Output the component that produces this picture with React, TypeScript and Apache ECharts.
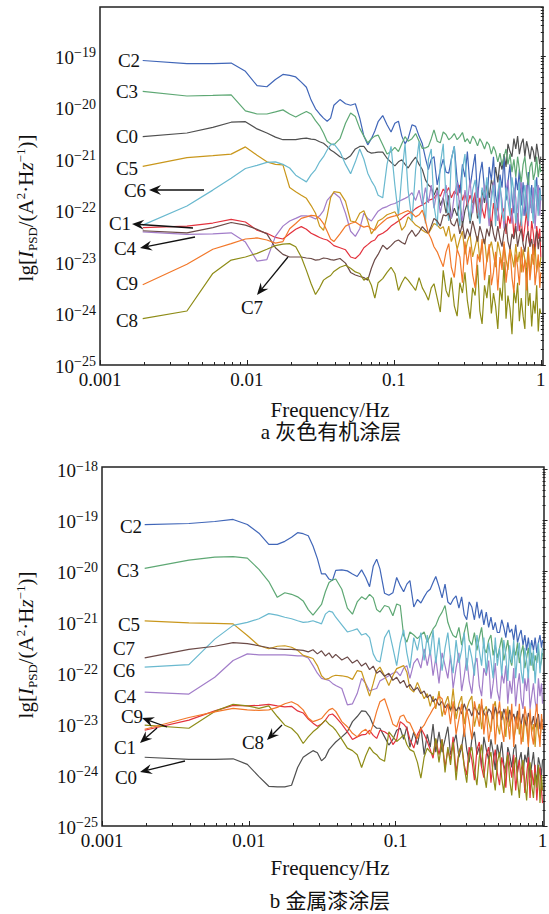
import React, { useEffect, useRef } from 'react';
import * as echarts from 'echarts';

// frequency bins (multiples of the 1/512 Hz resolution)
const BINS = [
  1, 2, 3, 4, 5, 6, 7, 8, 9, 10, 11, 12, 13, 14, 15, 16, 17, 18, 19, 20,
  22, 24, 26, 28, 30, 32, 34, 36, 38, 40,
  43, 46, 49, 52, 55, 58, 61, 64,
  68, 72, 76, 80, 84, 88, 92, 96,
  101, 106, 111, 116, 121, 126,
  132, 138, 144, 150, 156, 162,
  169, 176, 183, 190, 197, 204,
  212, 220, 228, 236, 244, 252,
  261, 270, 279, 288, 297, 306,
  316, 326, 336, 346, 356, 366,
  377, 388, 399, 410, 421, 432,
  444, 456, 468, 480, 492, 504,
  512,
];
const DF = 1 / 512;

const NAMES = ['C0', 'C1', 'C2', 'C3', 'C4', 'C5', 'C6', 'C7', 'C8', 'C9'];
const COLORS = ['#505050', '#e3323d', '#4066b8', '#5ea874', '#a27dc9', '#c9971c', '#6ab9cf', '#6b4a47', '#8e8c17', '#f2782a'];

// ---- panel a: lg PSD values ----
const A_C0 = [
  -20.56, -20.49, -20.38, -20.28, -20.27, -20.41, -20.49, -20.57, -20.62, -20.62, -20.62, -20.6, -20.59, -20.61, -20.62, -20.66, -20.69, -20.75, -20.82, -20.86,
  -20.95, -21.0, -20.93, -20.8, -20.75, -20.75, -20.85, -20.88, -20.87, -20.86,
  -20.86, -20.98, -21.06, -21.13, -21.05, -21.01, -21.1, -21.17,
  -21.05, -20.96, -21.1, -21.2, -21.4, -21.5, -21.55, -21.7,
  -21.55, -21.9, -21.75, -22.05, -21.7, -22.15,
  -21.95, -22.1, -21.8, -22.3, -22.0, -21.85,
  -22.25, -21.95, -21.7, -22.15, -22.05, -21.6,
  -21.85, -21.45, -21.75, -21.4, -21.55, -21.15,
  -21.45, -21.05, -21.2, -20.9, -21.15, -20.7,
  -20.85, -20.95, -20.6, -20.8, -20.55, -20.9,
  -20.7, -20.6, -20.95, -20.65, -20.8, -21.0,
  -20.75, -20.85, -21.05, -20.7, -20.9, -21.1,
  -20.95,
];
const A_C1 = [
  -22.33, -22.3, -22.24, -22.17, -22.22, -22.38, -22.44, -22.52, -22.55, -22.45, -22.36, -22.31, -22.36, -22.44, -22.48, -22.52, -22.55, -22.57, -22.62, -22.68,
  -22.72, -22.76, -22.9, -22.93, -22.85, -22.72, -22.66, -22.6, -22.57, -22.48,
  -22.44, -22.38, -22.3, -22.25, -22.2, -22.15, -22.1, -22.06,
  -22.02, -21.96, -21.92, -21.89, -21.85, -21.8, -21.78, -21.76,
  -21.66, -21.72, -21.58, -21.65, -21.55, -21.75,
  -21.62, -21.7, -21.5, -21.8, -21.65, -21.9,
  -21.7, -21.85, -21.65, -22.05, -21.75, -21.95,
  -22.15, -21.8, -22.0, -22.3, -21.85, -22.1,
  -21.9, -22.35, -22.05, -21.95, -22.45, -22.1,
  -22.25, -21.95, -22.5, -22.2, -22.05, -22.4,
  -22.15, -22.6, -22.3, -22.0, -22.5, -22.7,
  -22.2, -22.45, -22.85, -22.3, -22.55, -22.35,
  -22.9,
];
const A_C2 = [
  -19.08, -19.14, -19.14, -19.13, -19.29, -19.57, -19.59, -19.45, -19.35, -19.37, -19.4, -19.5, -19.6, -19.85, -20.02, -20.12, -20.2, -20.26, -20.2, -19.95,
  -19.84, -19.92, -19.95, -19.92, -20.2, -20.55, -20.72, -20.6, -20.45, -20.27,
  -20.15, -20.33, -20.47, -20.3, -20.26, -20.55, -20.7, -20.6,
  -20.33, -20.36, -20.55, -20.7, -20.98, -21.2, -21.0, -20.95,
  -21.5, -21.2, -21.0, -21.25, -21.27, -21.0,
  -20.75, -21.4, -21.66, -21.1, -21.35, -20.85,
  -21.55, -21.2, -20.9, -21.75, -21.3, -21.05,
  -21.6, -21.85, -21.15, -21.4, -20.95, -21.7,
  -21.95, -21.3, -21.55, -20.95, -21.8, -21.45,
  -21.1, -21.75, -22.05, -21.35, -21.6, -21.2,
  -21.9, -21.45, -22.1, -21.7, -21.25, -21.95,
  -21.5, -22.15, -21.65, -21.35, -22.0, -21.55,
  -21.8,
];
const A_C3 = [
  -19.68, -19.77, -19.76, -19.75, -20.06, -20.12, -20.12, -20.08, -20.04, -20.12, -20.18, -20.12, -20.07, -20.12, -20.25, -20.35, -20.49, -20.65, -20.7, -20.72,
  -20.6, -20.3, -20.1, -20.17, -20.4, -20.55, -20.68, -20.6, -20.55, -20.53,
  -20.72, -20.9, -20.85, -20.77, -20.85, -20.7, -20.56, -20.65,
  -20.6, -20.5, -20.65, -20.79, -20.78, -20.75, -20.6, -20.43,
  -20.65, -20.68, -20.47, -20.52, -20.62, -20.58,
  -20.5, -20.62, -20.56, -20.48, -20.66, -20.6,
  -20.7, -20.55, -20.62, -20.74, -20.6, -20.68,
  -20.8, -20.66, -20.72, -20.9, -20.75, -20.85,
  -21.05, -20.88, -21.12, -20.95, -20.8, -21.1,
  -20.9, -21.25, -21.0, -21.35, -20.95, -21.2,
  -21.45, -21.1, -20.95, -21.3, -21.5, -21.15,
  -21.05, -21.4, -21.25, -20.95, -21.35, -21.1,
  -21.25,
];
const A_C4 = [
  -22.41, -22.46, -22.45, -22.43, -22.61, -22.98, -22.95, -22.5, -22.3, -22.2, -22.15, -22.1, -22.1, -22.12, -22.16, -22.1, -22.0, -21.8, -21.72, -21.65,
  -21.75, -22.05, -22.4, -22.5, -22.35, -22.05, -22.15, -22.2, -22.1, -22.01,
  -21.95, -21.92, -21.88, -21.86, -21.82, -21.79, -21.76, -21.73,
  -21.65, -21.8, -21.6, -21.9, -21.55, -21.85, -21.5, -21.95,
  -21.6, -22.05, -21.75, -21.5, -21.9, -22.15,
  -21.7, -21.45, -21.95, -22.2, -21.6, -21.85,
  -21.4, -22.05, -21.7, -21.55, -22.25, -21.9,
  -21.5, -21.8, -22.3, -21.65, -21.45, -22.0,
  -22.2, -21.55, -21.8, -22.35, -21.6, -21.4,
  -21.95, -22.25, -21.55, -21.75, -22.4, -21.65,
  -21.45, -22.1, -21.85, -21.5, -22.3, -21.7,
  -22.05, -21.55, -22.35, -21.8, -21.5, -22.1,
  -21.7,
];
const A_C5 = [
  -21.14, -20.97, -20.93, -20.9, -20.76, -20.92, -21.05, -21.1, -21.11, -21.55, -21.63, -21.7, -21.76, -21.9, -22.05, -22.3, -22.38, -22.1, -21.75, -21.63,
  -21.65, -21.82, -22.2, -22.22, -22.05, -22.0, -22.2, -22.45, -22.35, -22.2,
  -22.15, -22.08, -22.05, -22.02, -22.15, -22.38, -22.3, -22.12,
  -22.2, -22.28, -22.32, -22.38, -22.42, -22.44, -22.35, -22.25,
  -22.28, -22.35, -22.31, -22.5, -22.3, -22.6,
  -22.45, -22.75, -22.55, -22.4, -22.85, -22.6,
  -22.45, -22.9, -22.7, -22.5, -22.95, -22.65,
  -22.55, -23.0, -22.75, -22.6, -22.85, -23.1,
  -22.6, -22.8, -23.05, -22.65, -22.95, -23.15,
  -22.7, -22.9, -23.1, -22.65, -23.0, -22.8,
  -23.2, -22.75, -22.95, -23.1, -22.7, -23.25,
  -22.85, -23.05, -22.7, -23.2, -22.95, -23.1,
  -22.9,
];
const A_C6 = [
  -22.28, -21.91, -21.6, -21.37, -21.18, -21.12, -21.06, -21.05, -21.1, -21.17, -21.31, -21.38, -21.44, -21.3, -21.2, -21.05, -20.95, -20.82, -20.72, -20.7,
  -20.85, -21.1, -21.28, -21.05, -20.8, -21.0, -21.27, -21.42, -21.53, -21.7,
  -21.75, -21.1, -20.75, -21.5, -22.1, -21.3, -20.7, -21.6,
  -22.2, -21.2, -20.65, -21.7, -22.25, -21.0, -20.8, -21.9,
  -22.3, -21.1, -20.7, -21.8, -22.2, -21.0,
  -20.75, -21.9, -22.3, -21.2, -20.9, -21.8,
  -22.2, -21.6, -21.4, -21.95, -22.25, -21.55,
  -21.75, -21.35, -22.15, -21.8, -21.5, -22.3,
  -21.65, -21.4, -22.05, -22.2, -21.55, -21.8,
  -22.1, -21.35, -21.65, -22.25, -21.9, -21.45,
  -22.3, -21.7, -21.5, -22.0, -22.2, -21.55,
  -21.85, -22.25, -21.4, -21.7, -22.1, -21.6,
  -21.8,
];
const A_C7 = [
  -22.39, -22.43, -22.33, -22.23, -22.28, -22.36, -22.45, -22.72, -22.85, -22.9, -22.9, -22.9, -22.92, -22.93, -22.96, -22.95, -22.92, -22.93, -22.95, -22.96,
  -22.93, -23.02, -23.2, -23.25, -23.28, -23.3, -23.35, -23.12, -22.95, -22.85,
  -22.67, -22.75, -22.68, -22.6, -22.57, -22.62, -22.65, -22.48,
  -22.38, -22.5, -22.42, -22.31, -22.38, -22.44, -22.3, -22.15,
  -22.2, -22.3, -22.08, -22.1, -22.05, -22.25,
  -22.3, -22.15, -22.45, -22.25, -22.55, -22.35,
  -22.5, -22.2, -22.4, -22.6, -22.3, -22.45,
  -22.65, -22.35, -22.5, -22.2, -22.45, -22.6,
  -22.3, -22.55, -22.7, -22.4, -22.25, -22.6,
  -22.75, -22.45, -22.55, -22.3, -22.7, -22.5,
  -22.35, -22.65, -22.8, -22.5, -22.4, -22.7,
  -22.55, -22.85, -22.6, -22.4, -22.75, -22.5,
  -22.6,
];
const A_C8 = [
  -24.1, -23.95, -23.22, -22.96, -22.9, -22.83, -22.75, -22.68, -22.65, -22.64, -22.7, -22.9, -23.16, -23.42, -23.63, -23.5, -23.35, -23.3, -23.26, -23.18,
  -23.1, -23.06, -23.12, -23.19, -23.22, -23.35, -23.3, -23.45, -23.7, -23.4,
  -23.32, -23.2, -23.1, -23.22, -23.55, -23.4, -23.29, -23.35,
  -23.45, -23.55, -23.3, -23.5, -23.61, -23.74, -23.5, -23.42,
  -23.7, -23.97, -23.16, -23.55, -23.68, -23.3,
  -23.85, -24.05, -23.4, -23.6, -23.2, -23.75,
  -24.1, -23.5, -23.65, -23.05, -23.95, -24.2,
  -23.45, -23.7, -23.25, -24.0, -23.6, -23.85,
  -24.3, -23.5, -23.75, -23.0, -24.1, -23.65,
  -23.9, -24.4, -23.55, -23.8, -23.4, -24.15,
  -23.7, -24.05, -24.3, -23.1, -23.85, -23.6,
  -24.25, -23.75, -24.0, -23.45, -24.35, -23.9,
  -24.0,
];
const A_C9 = [
  -23.44, -23.04, -22.75, -22.64, -22.55, -22.53, -22.57, -22.63, -22.6, -22.35, -22.25, -22.15, -22.12, -22.09, -22.1, -22.15, -22.25, -22.4, -22.55, -22.6,
  -22.45, -22.3, -22.25, -22.22, -22.28, -22.32, -22.3, -22.35, -22.38, -22.3,
  -22.22, -22.15, -22.12, -22.1, -22.08, -22.05, -22.02, -22.0,
  -22.05, -22.12, -22.08, -21.99, -22.2, -22.44, -22.55, -22.7,
  -22.8, -22.95, -23.09, -22.8, -22.64, -23.1,
  -23.3, -22.75, -22.9, -23.4, -22.6, -23.05,
  -22.7, -23.25, -23.5, -22.85, -23.0, -22.55,
  -23.35, -22.95, -22.65, -23.45, -23.2, -22.8,
  -23.55, -22.9, -23.15, -22.6, -23.4, -23.05,
  -22.75, -23.3, -23.6, -22.85, -23.1, -23.45,
  -22.7, -23.2, -22.95, -23.55, -22.8, -23.35,
  -23.0, -22.65, -23.45, -23.15, -22.85, -23.5,
  -23.2,
];

// ---- panel b: lg PSD values ----
const B_C0 = [
  -23.65, -23.69, -23.69, -23.68, -23.79, -24.03, -24.22, -24.23, -24.23, -24.2, -23.85, -23.65, -23.58, -23.52, -23.56, -23.72, -23.65, -23.5, -23.42, -23.35,
  -23.25, -23.15, -22.95, -22.85, -22.74, -22.75, -22.85, -23.02, -23.08, -23.08,
  -23.25, -23.41, -23.3, -23.12, -23.08, -23.3, -23.05, -23.45,
  -23.15, -23.4, -23.05, -23.6, -23.2, -23.45, -23.0, -23.55,
  -23.15, -23.55, -23.3, -23.05, -23.6, -23.4,
  -23.2, -23.65, -23.45, -23.1, -23.5, -23.75,
  -23.3, -23.15, -23.6, -23.45, -23.85, -23.25,
  -23.5, -23.7, -23.3, -23.55, -23.9, -23.4,
  -23.65, -23.35, -23.8, -23.95, -23.45, -23.6,
  -23.85, -23.5, -23.4, -23.95, -23.7, -23.55,
  -24.0, -23.6, -23.75, -23.45, -24.05, -23.8,
  -23.55, -23.95, -24.1, -23.65, -23.8, -24.0,
  -23.7,
];
const B_C1 = [
  -23.12, -22.92, -22.74, -22.63, -22.64, -22.63, -22.61, -22.64, -22.66, -22.65, -22.74, -22.78, -22.9, -22.98, -23.04, -23.0, -22.92, -22.82, -22.8, -22.86,
  -23.0, -23.15, -23.3, -23.25, -23.21, -23.2, -23.12, -23.22, -23.28, -23.12,
  -23.15, -23.21, -23.4, -23.3, -22.95, -23.0, -23.08, -23.3,
  -23.47, -23.2, -23.08, -23.2, -23.34, -23.5, -23.67, -23.3,
  -23.6, -23.3, -23.85, -23.5, -23.7, -23.25,
  -23.95, -23.55, -23.4, -23.8, -24.0, -23.45,
  -23.7, -24.1, -23.5, -23.35, -23.85, -24.05,
  -23.6, -23.45, -24.15, -23.75, -23.5, -23.95,
  -24.2, -23.65, -23.85, -24.25, -23.55, -23.8,
  -24.05, -23.6, -24.3, -23.9, -23.7, -24.15,
  -23.75, -24.35, -24.0, -23.65, -24.45, -23.9,
  -24.2, -23.8, -24.5, -24.05, -23.85, -24.3,
  -24.55,
];
const B_C2 = [
  -19.08, -19.06, -19.02, -18.98, -19.08, -19.25, -19.47, -19.47, -19.41, -19.33, -19.24, -19.26, -19.3, -19.5, -19.75, -20.05, -20.05, -20.15, -20.18, -19.98,
  -19.97, -19.99, -20.05, -20.1, -19.97, -20.12, -20.3, -19.9, -19.76, -19.95,
  -20.43, -20.47, -20.42, -20.12, -20.28, -20.4, -20.25, -20.18,
  -20.7, -20.55, -20.62, -20.5, -20.4, -20.35, -20.22, -20.1,
  -20.3, -20.52, -20.25, -20.6, -20.65, -20.55,
  -20.48, -20.72, -20.5, -20.85, -20.95, -20.6,
  -20.7, -20.95, -20.6, -20.92, -20.75, -21.05,
  -20.8, -21.1, -20.9, -21.15, -21.0, -21.2,
  -21.2, -20.95, -21.1, -21.3, -21.0, -21.2,
  -21.13, -21.35, -21.05, -21.4, -21.25, -21.15,
  -21.45, -21.25, -21.55, -21.3, -21.6, -21.35,
  -21.55, -21.3, -21.6, -21.4, -21.25, -21.5,
  -21.35,
];
const B_C3 = [
  -19.94, -19.78, -19.72, -19.71, -19.74, -19.96, -20.2, -20.51, -20.42, -20.45, -20.5, -20.58, -20.75, -20.86, -20.75, -20.65, -20.4, -20.22, -20.17, -20.15,
  -20.35, -20.72, -20.84, -20.6, -20.5, -20.55, -20.45, -20.52, -20.75, -20.8,
  -20.67, -20.7, -20.87, -20.64, -20.67, -21.26, -21.39, -21.19,
  -21.25, -21.32, -21.25, -21.19, -21.39, -21.25, -21.13, -21.06,
  -20.9, -20.8, -20.67, -21.0, -21.15, -21.26,
  -21.3, -21.1, -21.45, -21.2, -21.0, -21.35,
  -21.45, -21.2, -21.55, -21.3, -21.1, -21.5,
  -21.6, -21.35, -21.25, -21.65, -21.45, -21.7,
  -21.5, -21.3, -21.75, -21.55, -21.35, -21.7,
  -21.85, -21.5, -21.65, -21.4, -21.8, -21.6,
  -21.45, -21.9, -21.7, -21.5, -21.85, -21.6,
  -21.95, -21.65, -21.8, -21.5, -21.9, -21.75,
  -21.6,
];
const B_C4 = [
  -22.37, -22.41, -22.08, -21.75, -21.62, -21.64, -21.64, -21.64, -21.64, -21.65, -21.66, -21.66, -21.7, -21.85, -22.0, -22.1, -22.12, -22.14, -22.2, -22.24,
  -22.3, -22.62, -22.6, -22.4, -22.1, -22.2, -22.35, -22.32, -22.3, -22.15,
  -22.1, -22.05, -22.0, -21.97, -22.05, -21.9, -21.85, -22.1,
  -21.8, -21.71, -21.9, -21.52, -21.85, -21.55, -22.05, -21.7,
  -22.2, -21.6, -21.85, -22.1, -21.65, -22.3,
  -21.9, -21.6, -22.35, -22.05, -21.7, -22.15,
  -22.4, -21.85, -21.7, -22.25, -22.45, -21.9,
  -22.05, -21.75, -22.5, -22.2, -21.8, -22.35,
  -22.55, -22.0, -22.2, -21.85, -22.6, -22.15,
  -22.4, -21.9, -22.65, -22.25, -22.0, -22.5,
  -22.7, -22.1, -22.35, -22.0, -22.7, -22.45,
  -22.2, -22.55, -22.75, -22.1, -22.45, -22.2,
  -22.6,
];
const B_C5 = [
  -20.97, -21.01, -21.02, -21.03, -21.26, -21.46, -21.52, -21.47, -21.46, -21.49, -21.55, -21.65, -21.68, -21.71, -21.85, -22.05, -22.12, -22.1, -22.06, -22.04,
  -22.05, -22.07, -22.12, -21.95, -21.97, -22.22, -22.45, -22.2, -21.95, -21.88,
  -22.05, -22.24, -22.05, -21.91, -21.88, -21.85, -21.98, -22.3,
  -22.37, -22.18, -22.35, -22.5, -22.4, -22.65, -22.45, -22.7,
  -22.35, -22.85, -22.6, -22.45, -22.75, -22.3,
  -22.9, -22.6, -22.45, -23.0, -22.7, -22.55,
  -22.45, -23.05, -22.8, -22.6, -23.1, -22.75,
  -22.65, -22.95, -23.15, -22.7, -22.55, -23.0,
  -23.2, -22.75, -22.9, -23.25, -22.65, -23.05,
  -22.8, -23.3, -23.1, -22.75, -23.2, -22.95,
  -23.35, -22.85, -23.1, -23.4, -22.8, -23.15,
  -23.0, -23.45, -22.9, -23.2, -23.3, -22.95,
  -22.9,
];
const B_C6 = [
  -21.88, -21.83, -21.33, -21.06, -21.0, -20.93, -20.83, -20.86, -20.9, -20.93, -20.97, -21.0, -20.99, -20.97, -21.0, -21.03, -20.84, -20.78, -20.8, -20.9,
  -21.05, -21.19, -21.16, -21.13, -21.25, -21.22, -21.3, -21.62, -21.75, -21.78,
  -21.3, -21.15, -21.5, -21.85, -21.4, -21.15, -21.6, -21.9,
  -21.3, -21.55, -21.2, -21.75, -21.25, -21.65, -21.15, -21.8,
  -21.3, -21.95, -21.5, -21.2, -21.7, -22.0,
  -21.35, -21.8, -21.55, -21.2, -21.95, -21.45,
  -21.7, -22.05, -21.25, -21.55, -21.85, -21.3,
  -22.0, -21.4, -21.75, -22.1, -21.3, -21.85,
  -21.5, -22.05, -21.35, -21.65, -22.15, -21.45,
  -21.8, -21.35, -22.1, -21.6, -21.4, -21.95,
  -22.2, -21.5, -21.75, -22.1, -21.4, -21.85,
  -21.55, -22.2, -21.7, -21.4, -22.0, -21.65,
  -21.5,
];
const B_C7 = [
  -21.7, -21.53, -21.47, -21.4, -21.42, -21.46, -21.5, -21.52, -21.53, -21.53, -21.54, -21.55, -21.58, -21.54, -21.62, -21.56, -21.66, -21.6, -21.7, -21.63,
  -21.74, -21.68, -21.8, -21.74, -21.86, -21.8, -21.93, -21.86, -22.0, -21.95,
  -22.06, -22.0, -22.14, -22.08, -22.2, -22.14, -22.28, -22.22,
  -22.34, -22.28, -22.4, -22.35, -22.48, -22.42, -22.56, -22.5,
  -22.63, -22.55, -22.68, -22.6, -22.72, -22.62,
  -22.74, -22.66, -22.8, -22.6, -22.76, -22.7,
  -22.84, -22.66, -22.74, -22.82, -22.62, -22.78,
  -22.86, -22.7, -22.76, -22.9, -22.66, -22.8,
  -22.74, -22.92, -22.7, -22.84, -22.96, -22.72,
  -22.9, -22.8, -22.98, -22.74, -22.88, -23.0,
  -22.8, -22.94, -23.04, -22.78, -22.9, -23.02,
  -22.84, -23.06, -22.9, -22.8, -23.1, -22.92,
  -22.95,
];
const B_C8 = [
  -23.02, -23.08, -22.75, -22.61, -22.64, -22.69, -22.64, -22.85, -23.02, -23.08, -23.2, -23.38, -23.25, -23.15, -23.08, -23.0, -22.92, -23.0, -23.05, -23.12,
  -23.3, -23.47, -23.52, -23.6, -23.85, -23.62, -23.45, -23.55, -23.6, -23.68,
  -23.73, -23.15, -23.25, -23.34, -23.28, -23.21, -23.4, -23.5,
  -23.54, -23.75, -24.06, -23.65, -23.47, -23.55, -23.6, -23.28,
  -23.75, -23.3, -23.95, -23.45, -23.8, -23.35,
  -24.1, -23.55, -23.4, -23.85, -24.15, -23.6,
  -23.45, -23.9, -24.2, -23.65, -23.4, -23.95,
  -24.25, -23.7, -23.55, -24.0, -24.3, -23.75,
  -23.55, -24.05, -24.35, -23.8, -23.6, -24.1,
  -24.4, -23.85, -23.65, -24.1, -24.45, -23.9,
  -23.7, -24.15, -24.5, -23.9, -23.75, -24.2,
  -24.45, -23.95, -24.25, -23.8, -24.55, -24.0,
  -24.3,
];
const B_C9 = [
  -23.1, -22.87, -22.76, -22.69, -22.72, -22.73, -22.72, -22.67, -22.6, -22.56, -22.62, -22.72, -22.88, -22.95, -22.92, -22.89, -22.8, -22.72, -22.69, -22.75,
  -22.95, -23.05, -23.18, -23.25, -23.15, -23.1, -23.2, -23.0, -22.75, -22.56,
  -22.5, -22.75, -23.0, -23.05, -22.85, -22.82, -22.95, -22.98,
  -23.15, -23.28, -23.1, -23.02, -22.9, -22.8, -22.7, -22.63,
  -22.45, -22.5, -22.82, -22.6, -23.0, -22.55,
  -23.2, -22.9, -22.6, -23.25, -22.7, -22.95,
  -23.3, -22.55, -22.8, -23.05, -22.5, -23.2,
  -22.75, -23.35, -23.05, -22.6, -23.4, -22.85,
  -22.55, -23.1, -23.35, -22.7, -22.95, -23.3,
  -22.6, -23.45, -22.85, -23.1, -22.6, -23.4,
  -23.15, -22.65, -22.9, -23.45, -22.7, -23.2,
  -23.4, -22.85, -22.6, -23.1, -23.45, -22.8,
  -23.1,
];

const PANEL_A = [A_C0, A_C1, A_C2, A_C3, A_C4, A_C5, A_C6, A_C7, A_C8, A_C9];
const PANEL_B = [B_C0, B_C1, B_C2, B_C3, B_C4, B_C5, B_C6, B_C7, B_C8, B_C9];

const X_TICKS = [-3, -2, -1, 0];
const X_TICK_LABELS = ['0.001', '0.01', '0.1', '1'];
const Y_TICKS_A = [-25, -24, -23, -22, -21, -20, -19];
const Y_TICKS_B = [-25, -24, -23, -22, -21, -20, -19, -18];

const X_TITLE = 'Frequency/Hz';
const CAPTION_A = 'a 灰色有机涂层';
const CAPTION_B = 'b 金属漆涂层';

const SERIF = '"Liberation Serif", "Times New Roman", "Noto Sans CJK SC", serif';
const INK = '#111';

function minorTicks(lo: number, hi: number, max: number) {
  const out: number[] = [];
  for (let n = lo; n < hi; n++) {
    for (let m = 2; m <= 9; m++) {
      const v = n + Math.log10(m);
      if (v <= max) out.push(v);
    }
  }
  return out;
}

function arrow(x1: number, y1: number, x2: number, y2: number) {
  const dx = x2 - x1, dy = y2 - y1;
  const L = Math.hypot(dx, dy);
  const ux = dx / L, uy = dy / L;
  const nx = -uy, ny = ux;
  const hl = 12, hw = 5;
  const bx = x2 - ux * hl, by = y2 - uy * hl;
  const mx = x2 - ux * hl * 0.65, my = y2 - uy * hl * 0.65;
  return [
    { type: 'line', z: 100, shape: { x1, y1, x2: mx, y2: my }, style: { stroke: INK, lineWidth: 1.3 } },
    {
      type: 'polygon', z: 100,
      shape: { points: [[x2, y2], [bx + nx * hw, by + ny * hw], [mx, my], [bx - nx * hw, by - ny * hw]] },
      style: { fill: INK },
    },
  ];
}

function label(text: string, x: number, y: number) {
  return {
    type: 'text', z: 100, x, y,
    style: { text, fontFamily: SERIF, fontSize: 19, fill: INK, align: 'center', verticalAlign: 'middle' },
  };
}

function plainText(text: string, x: number, y: number, size: number) {
  return {
    type: 'text', z: 100, x, y,
    style: { text, fontFamily: SERIF, fontSize: size, fill: INK, align: 'center', verticalAlign: 'middle' },
  };
}

function yTitle(x: number, y: number) {
  return {
    type: 'text', z: 100, x, y, rotation: Math.PI / 2,
    style: {
      text: '{n|lg[}{i|I}{sub|PSD}{n|/(A}{sup|2}{n|·H}{i|z}{sup|−1}{n|)]}',
      align: 'center', verticalAlign: 'middle', fill: INK,
      rich: {
        n: { fontFamily: SERIF, fontSize: 21, lineHeight: 28, fill: INK },
        i: { fontFamily: SERIF, fontSize: 21, lineHeight: 28, fontStyle: 'italic', fill: INK },
        sub: { fontFamily: SERIF, fontSize: 13, lineHeight: 13, verticalAlign: 'bottom', fill: INK, padding: [0, 0, 1, 0] },
        sup: { fontFamily: SERIF, fontSize: 13, lineHeight: 13, verticalAlign: 'top', fill: INK, padding: [2, 0, 0, 0] },
      },
    },
  };
}

const tickLine = { color: '#222', width: 1 };

function xAxes(gridIndex: number, max: number) {
  return [
    {
      type: 'value', gridIndex, min: -3, max, position: 'bottom',
      axisLine: { show: false }, splitLine: { show: false },
      axisTick: { show: true, inside: true, length: 5, customValues: X_TICKS, lineStyle: tickLine },
      axisLabel: {
        show: true, customValues: X_TICKS, margin: 5,
        formatter: (v: number) => X_TICK_LABELS[X_TICKS.indexOf(Math.round(v))] ?? '',
        fontFamily: SERIF, fontSize: 19, color: INK,
      },
    },
    {
      type: 'value', gridIndex, min: -3, max, position: 'bottom',
      axisLine: { show: false }, splitLine: { show: false }, axisLabel: { show: false },
      axisTick: { show: true, inside: true, length: 3, customValues: minorTicks(-3, 0, max), lineStyle: tickLine },
    },
  ];
}

function yAxes(gridIndex: number, max: number, ticks: number[]) {
  return [
    {
      type: 'value', gridIndex, min: -25, max, position: 'left',
      axisLine: { show: false }, splitLine: { show: false },
      axisTick: { show: true, inside: true, length: 5, customValues: ticks, lineStyle: tickLine },
      axisLabel: {
        show: true, customValues: ticks, margin: 4,
        formatter: (v: number) => `{b|10}{s|−${Math.abs(Math.round(v))}}`,
        rich: {
          b: { fontFamily: SERIF, fontSize: 19, lineHeight: 21, color: INK, verticalAlign: 'bottom' },
          s: { fontFamily: SERIF, fontSize: 14, lineHeight: 14, color: INK, verticalAlign: 'top' },
        },
      },
    },
    {
      type: 'value', gridIndex, min: -25, max, position: 'left',
      axisLine: { show: false }, splitLine: { show: false }, axisLabel: { show: false },
      axisTick: { show: true, inside: true, length: 3, customValues: minorTicks(-25, Math.ceil(max), max), lineStyle: tickLine },
    },
  ];
}

function buildSeries(panel: number[][], axisBase: number) {
  return panel.map((vals, i) => ({
    name: NAMES[i],
    type: 'line',
    xAxisIndex: axisBase,
    yAxisIndex: axisBase,
    data: BINS.map((k, j) => [Math.log10(k * DF), vals[j]]),
    showSymbol: false,
    symbol: 'none',
    silent: true,
    clip: true,
    z: 2 + i,
    lineStyle: { width: 1.2, color: COLORS[i] },
    itemStyle: { color: COLORS[i] },
  }));
}

export default function App() {
  const ref = useRef<HTMLDivElement>(null);
  useEffect(() => {
    document.body.style.margin = '0';
    const chart = echarts.init(ref.current!, null, { renderer: 'svg' });
    const XMAX_A = 0.015, XMAX_B = 0.01;
    const YMAX_A = -18.04, YMAX_B = -17.95;
    const gridStyle = { show: true, borderColor: '#222', borderWidth: 1.5, backgroundColor: 'transparent', containLabel: false, outerBoundsMode: 'none' };
    chart.setOption({
      animation: false,
      backgroundColor: '#fff',
      grid: [
        { left: 100, top: 7, width: 443, height: 358, ...gridStyle },
        { left: 102, top: 467, width: 442, height: 359, ...gridStyle },
      ],
      xAxis: [...xAxes(0, XMAX_A), ...xAxes(1, XMAX_B)],
      yAxis: [...yAxes(0, YMAX_A, Y_TICKS_A), ...yAxes(1, YMAX_B, Y_TICKS_B)],
      series: [...buildSeries(PANEL_A, 0), ...buildSeries(PANEL_B, 2)],
      graphic: [
        // panel a labels
        label('C2', 129, 60), label('C3', 127, 91), label('C0', 127, 136), label('C5', 127, 168),
        label('C6', 135, 190), label('C1', 120, 223), label('C4', 125, 248), label('C9', 127, 283),
        label('C8', 127, 320), label('C7', 252, 307),
        ...arrow(204, 190, 149, 190),
        ...arrow(193, 228, 132, 224),
        ...arrow(195, 237, 140, 248),
        ...arrow(288, 257, 257, 295),
        yTitle(26, 208),
        plainText(X_TITLE, 330, 410, 21),
        plainText(CAPTION_A, 331, 432, 21),
        // panel b labels
        label('C2', 131, 526), label('C3', 128, 570), label('C5', 129, 624), label('C7', 124, 648),
        label('C6', 124, 670), label('C4', 125, 696), label('C9', 132, 716), label('C1', 125, 747),
        label('C0', 126, 777), label('C8', 253, 742),
        ...arrow(167, 727, 142, 718),
        ...arrow(157, 728, 140, 743),
        ...arrow(185, 761, 140, 772),
        ...arrow(282, 725, 267, 740),
        yTitle(26, 645),
        plainText(X_TITLE, 330, 868, 21),
        plainText(CAPTION_B, 330, 901, 21),
      ],
    });
    return () => chart.dispose();
  }, []);
  return <div ref={ref} style={{ position: 'absolute', left: 0, top: 0, width: 549, height: 914 }} />;
}
